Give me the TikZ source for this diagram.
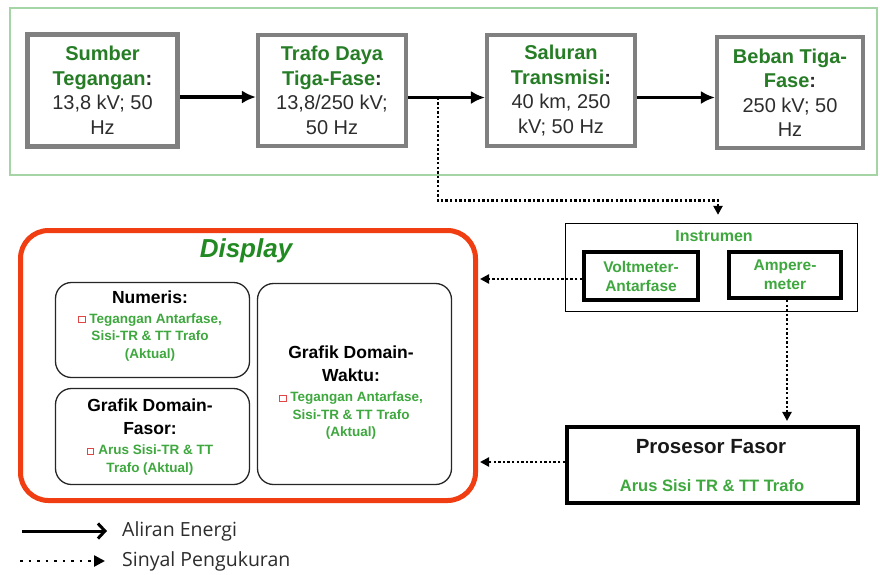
\documentclass[tikz,border=0pt]{standalone}
\usepackage{fontspec}
\setmainfont{Liberation Sans}
\newfontfamily\legfont{Open Sans}
\usetikzlibrary{arrows.meta}

\definecolor{framegreen}{RGB}{165,212,165}
\definecolor{hdrgreen}{RGB}{38,125,38}
\definecolor{itgreen}{RGB}{62,168,62}
\definecolor{boxgray}{RGB}{128,128,128}
\definecolor{txtgray}{RGB}{45,45,45}
\definecolor{disporange}{RGB}{240,62,18}
\definecolor{bulred}{RGB}{225,70,70}

\newcommand{\fs}[2]{\fontsize{#1pt}{#2pt}\selectfont}
\newcommand{\redsq}{\tikz[baseline=0pt]\draw[bulred,line width=0.9pt] (0pt,0.5pt) rectangle (6.5pt,7pt);\hspace{4pt}}
\newcommand{\hdr}[1]{\textcolor{hdrgreen}{\bfseries #1}}
\newcommand{\gcolon}{\textcolor{txtgray}{\bfseries :}}
\newcommand{\ttl}[1]{{\fs{17.5}{23}\bfseries #1}}
\newcommand{\itm}[1]{{\bfseries\color{itgreen}#1}}

\begin{document}
\begin{tikzpicture}[x=1pt,y=-1pt,
  topframe/.style={draw=framegreen,line width=1.6pt},
  pwrbox/.style={draw=boxgray,line width=3.6pt,fill=white,align=center,
    inner sep=0pt,text=txtgray,font=\fs{20}{24.5}},
  instbox/.style={draw=black,line width=1.3pt,inner sep=0pt},
  meterbox/.style={draw=black,line width=3.6pt,inner sep=0pt,align=center,
    text=itgreen,font=\fs{15.5}{19}\bfseries},
  dispbox/.style={draw=disporange,line width=5pt,rounded corners=28pt,inner sep=0pt},
  subbox/.style={draw=black!85,line width=1.3pt,rounded corners=16pt,inner sep=0pt},
  itemtext/.style={align=center,inner sep=0pt,font=\fs{13.5}{17.5}},
  energy/.style={line width=3.6pt,-{Latex[length=14pt,width=13pt]}},
  signal/.style={line width=2.6pt,dash pattern=on 2.4pt off 2.2pt,
    -{Triangle[length=9pt,width=9pt]}},
  legtext/.style={anchor=west,inner sep=0pt,text=txtgray,font=\legfont\fs{19.5}{23}}
]
\useasboundingbox (0,0) rectangle (880,574);
\fill[white] (0,0) rectangle (880,574);

% power system chain
\node[topframe,minimum width=867,minimum height=167] (power) at (443.5,91.5) {};
\node[pwrbox,line width=5pt,minimum width=150,minimum height=112] (src) at (102.5,90)
  {\hdr{Sumber}\\\hdr{Tegangan}\gcolon\\13,8 kV; 50\\Hz};
\node[pwrbox,minimum width=148.5,minimum height=111.5] (trafo) at (332,90.5)
  {\hdr{Trafo Daya}\\\hdr{Tiga-Fase}\gcolon\\13,8/250 kV;\\50 Hz};
\node[pwrbox,minimum width=148.5,minimum height=111.5] (line) at (561,90.5)
  {\hdr{Saluran}\\\hdr{Transmisi}\gcolon\\40 km, 250\\kV; 50 Hz};
\node[pwrbox,minimum width=146.5,minimum height=111.5] (load) at (790,92.5)
  {\hdr{Beban Tiga-}\\\hdr{Fase}\gcolon\\250 kV; 50\\Hz};

\draw[energy] ([yshift=-7pt]src.east) -- ([yshift=-7pt]src.east -| trafo.west);
\draw[energy] ([yshift=-7pt]trafo.east) -- ([yshift=-7pt]trafo.east -| line.west)
  coordinate[pos=0.39] (tap);
\draw[energy] ([yshift=-7pt]line.east) -- ([yshift=-7pt]line.east -| load.west);

% instruments
\node[instbox,minimum width=292,minimum height=88] (instr) at (711.5,267.5) {};
\node[anchor=center,inner sep=0pt,text=itgreen,font=\fs{16}{18}\bfseries]
  (instrlbl) at (714,236) {Instrumen};
\node[meterbox,minimum width=114.5,minimum height=48.5] (volt) at (641,276)
  {Voltmeter-\\Antarfase};
\node[meterbox,minimum width=112.5,minimum height=46.5] (amp) at (785,275)
  {Ampere-\\meter};
\node[meterbox,minimum width=291.5,minimum height=76.5] (proc) at (712.5,465) {};
\node[inner sep=0pt,font=\fs{20.5}{24}\bfseries,text=black!90] (proctitle) at (711,447) {Prosesor Fasor};
\node[inner sep=0pt,font=\fs{16.5}{20}\bfseries,text=itgreen] (procsub) at (712,486) {Arus Sisi TR \& TT Trafo};

\draw[signal,shorten >=8pt] (tap) -- ++(0,103) -| ([xshift=6.5pt]instr.north);

% display
\node[dispbox,minimum width=455,minimum height=270] (disp) at (248,365.5) {};
\node[inner sep=0pt,text=hdrgreen!90!green,font=\fs{26}{30}\bfseries\itshape] (disptitle) at (246,251) {Display};
\node[subbox,minimum width=194,minimum height=95] (num) at (152.5,330) {};
\node[subbox,minimum width=194,minimum height=96] (phasor) at (152.5,436.5) {};
\node[subbox,minimum width=194,minimum height=201] (wave) at (354.5,384) {};

\node[itemtext] (numtxt) at (150,326) {%
  \ttl{Numeris:}\\[2.5pt]
  \itm{\redsq Tegangan Antarfase,}\\
  \itm{Sisi-TR \& TT Trafo}\\
  \itm{(Aktual)}};
\node[itemtext] (phasortxt) at (150,437) {%
  \ttl{Grafik Domain-}\\[5.5pt]
  \ttl{Fasor:}\\[3pt]
  \itm{\redsq Arus Sisi-TR \& TT}\\
  \itm{Trafo (Aktual)}};
\node[itemtext] (wavetxt) at (351,393) {%
  \ttl{Grafik Domain-}\\[5.5pt]
  \ttl{Waktu:}\\[2.5pt]
  \itm{\redsq Tegangan Antarfase,}\\
  \itm{Sisi-TR \& TT Trafo}\\
  \itm{(Aktual)}};

% measurement signals into the display and phasor processor
\draw[signal,shorten >=2pt] ([yshift=-3pt]volt.west) -- ([yshift=-3pt]volt.west -| disp.east);
\draw[signal,shorten >=4pt] ([xshift=2pt]amp.south) -- ([xshift=2pt]amp.south |- proc.north);
\draw[signal,shorten >=2pt] ([yshift=3pt]proc.west) -- ([yshift=3pt]proc.west -| disp.east);

% legend
\coordinate (legA) at (22,531);
\coordinate (legB) at (20,561);
\node[legtext] (legenergy) at (122,531) {Aliran Energi};
\node[legtext] (legsignal) at (122,561) {Sinyal Pengukuran};
\draw[line width=3pt,-{Straight Barb[length=7pt,width=15pt,line width=3pt]},shorten >=15pt]
  (legA) -- (legenergy.west);
\draw[line width=2.5pt,dash pattern=on 2.5pt off 6pt,-{Triangle[length=11pt,width=11pt]},shorten >=17pt]
  (legB) -- (legsignal.west);
\end{tikzpicture}
\end{document}
